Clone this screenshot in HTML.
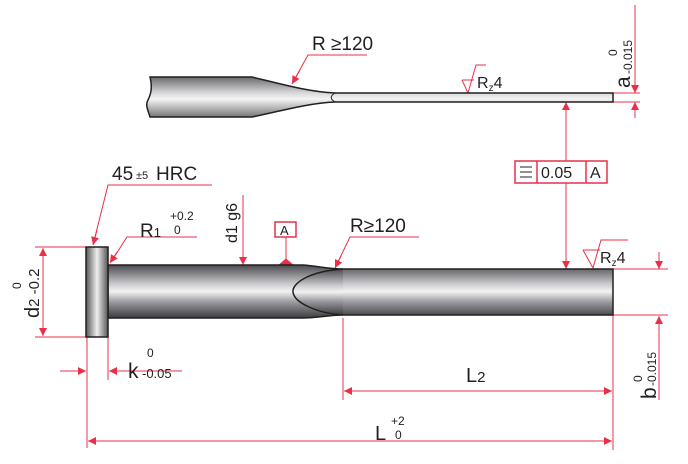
<!DOCTYPE html>
<html><head><meta charset="utf-8"><style>
html,body{margin:0;padding:0;background:#fff;width:688px;height:464px;overflow:hidden}
text{font-family:"Liberation Sans",Arial,sans-serif;fill:#231f20}
</style></head><body>
<svg width="688" height="464" viewBox="0 0 688 464" xmlns="http://www.w3.org/2000/svg">
<defs>
<linearGradient id="g" x1="0" y1="0" x2="0" y2="1">
<stop offset="0" stop-color="#4a4a4f"/><stop offset="0.35" stop-color="#c9c9cc"/><stop offset="0.5" stop-color="#f2f2f2"/><stop offset="0.7" stop-color="#9a9a9e"/><stop offset="1" stop-color="#3c3c40"/></linearGradient>
<linearGradient id="g2" x1="0" y1="0" x2="0" y2="1">
<stop offset="0" stop-color="#6a6a6e"/><stop offset="0.4" stop-color="#d8d8da"/><stop offset="0.55" stop-color="#f4f4f4"/><stop offset="1" stop-color="#77777b"/></linearGradient>
<linearGradient id="gh" x1="0" y1="0" x2="1" y2="0">
<stop offset="0" stop-color="#555"/><stop offset="0.5" stop-color="#eee"/><stop offset="1" stop-color="#555"/></linearGradient>
<marker id="a" viewBox="0 0 10 10" refX="10" refY="5" markerWidth="12" markerHeight="8" markerUnits="userSpaceOnUse" orient="auto-start-reverse"><path d="M0,0L10,5L0,10z" fill="#e8304a"/></marker>
</defs>
<g stroke="#e8304a" stroke-width="1" fill="none">
<line x1="635" y1="5" x2="635" y2="93" marker-end="url(#a)"/>
<line x1="635" y1="118" x2="635" y2="102" marker-end="url(#a)"/>
<line x1="613" y1="93" x2="640" y2="93"/><line x1="613" y1="102" x2="640" y2="102"/>
<line x1="566" y1="161" x2="566" y2="102" marker-end="url(#a)"/>
<line x1="566" y1="183" x2="566" y2="269" marker-end="url(#a)"/>
<rect x="515" y="161" width="92" height="22" stroke-width="1.5"/>
<line x1="537" y1="161" x2="537" y2="183" stroke-width="1.5"/><line x1="586" y1="161" x2="586" y2="183" stroke-width="1.5"/>
<line x1="520" y1="167" x2="532" y2="167" stroke="#231f20"/><line x1="520" y1="172" x2="532" y2="172" stroke="#231f20"/><line x1="520" y1="177" x2="532" y2="177" stroke="#231f20"/>
<polyline points="367,55 308,55 292,84"/><line x1="300" y1="70" x2="292" y2="84" marker-end="url(#a)"/>
<polyline points="462,80 468,93 476,65 486,65"/><line x1="462" y1="80" x2="474" y2="80"/>
<polyline points="212,185 108,185 93,245" /><line x1="97" y1="230" x2="93" y2="245" marker-end="url(#a)"/>
<polyline points="197,237 127,237 111,262"/><line x1="117" y1="252" x2="110" y2="263" marker-end="url(#a)"/>
<line x1="243" y1="195" x2="243" y2="265" marker-end="url(#a)"/>
<rect x="275" y="222" width="21" height="15" stroke-width="1.5"/>
<line x1="286" y1="237" x2="286" y2="260"/><path d="M279,265L286,259L293,265z" fill="#e8304a"/>
<polyline points="419,237 350,237 336,266"/><line x1="341" y1="256" x2="335" y2="268" marker-end="url(#a)"/>
<polyline points="583,250 593,268 601,240 628,240"/><line x1="583" y1="250" x2="600" y2="250"/>
<line x1="35" y1="247" x2="86" y2="247"/><line x1="35" y1="337" x2="86" y2="337"/>
<line x1="43" y1="290" x2="43" y2="248" marker-end="url(#a)"/><line x1="43" y1="290" x2="43" y2="336" marker-end="url(#a)"/>
<line x1="87" y1="337" x2="87" y2="448"/><line x1="108" y1="318" x2="108" y2="380"/>
<line x1="60" y1="371" x2="86" y2="371" marker-end="url(#a)"/><line x1="182" y1="371" x2="109" y2="371" marker-end="url(#a)"/>
<line x1="343" y1="318" x2="343" y2="400"/><line x1="613" y1="315" x2="613" y2="450"/>
<line x1="470" y1="391" x2="344" y2="391" marker-end="url(#a)"/><line x1="470" y1="391" x2="612" y2="391" marker-end="url(#a)"/>
<line x1="350" y1="441" x2="88" y2="441" marker-end="url(#a)"/><line x1="350" y1="441" x2="612" y2="441" marker-end="url(#a)"/>
<line x1="613" y1="269" x2="668" y2="269"/><line x1="613" y1="315" x2="668" y2="315"/>
<line x1="659" y1="252" x2="659" y2="269" marker-end="url(#a)"/><line x1="659" y1="400" x2="659" y2="316" marker-end="url(#a)"/>
</g>
<path d="M150,77 L252,77 C285,85 310,92 335,93 L613,93 L613,102 L335,102 C310,103 285,110 252,117 L150,117 C148,110 145,105 148,100 C152,92 152,85 150,77z" fill="url(#g2)" stroke="#231f20" stroke-width="1.5"/>
<path d="M335,93 C330,96 330,99 335,102" fill="none" stroke="#231f20" stroke-width="1"/>
<path d="M108,265 L303,265 C318,266 328,269 343,269 L613,269 L613,315 L343,315 C328,315 318,318 303,318 L108,318z" fill="url(#g)" stroke="#231f20" stroke-width="1.5"/>
<path d="M343,269 C310,271 292,283 293,292 C294,302 315,313 343,315" fill="url(#g)" stroke="#231f20" stroke-width="1.5"/>
<rect x="86" y="247" width="22" height="90" fill="url(#gh)" stroke="#231f20" stroke-width="1.5"/>
<text x="312" y="50" font-size="19">R ≥120</text>
<text x="477" y="88" font-size="16">R<tspan font-size="10" dy="3">z</tspan><tspan dy="-3">4</tspan></text>
<text transform="translate(630,88) rotate(-90)" font-size="21">a</text>
<text transform="translate(632,74) rotate(-90)" font-size="12">-0.015</text>
<text transform="translate(617,56) rotate(-90)" font-size="12">0</text>
<text x="541" y="178" font-size="16">0.05</text>
<text x="590" y="178" font-size="16">A</text>
<text x="112" y="180" font-size="19">45</text><text x="136" y="179" font-size="11">±5</text><text x="156" y="180" font-size="19">HRC</text>
<text x="140" y="237" font-size="19">R<tspan font-size="13">1</tspan></text>
<text x="170" y="220" font-size="12">+0.2</text><text x="174" y="234" font-size="12">0</text>
<text transform="translate(237,243) rotate(-90)" font-size="16">d1 g6</text>
<text x="280" y="235" font-size="13">A</text>
<text x="350" y="232" font-size="19">R≥120</text>
<text x="600" y="263" font-size="16">R<tspan font-size="10" dy="3">z</tspan><tspan dy="-3">4</tspan></text>
<text transform="translate(39,318) rotate(-90)" font-size="20">d<tspan font-size="15">2</tspan><tspan font-size="15"> -0.2</tspan></text>
<text transform="translate(21,289) rotate(-90)" font-size="12">0</text>
<text x="128" y="378" font-size="21">k</text><text x="147" y="357" font-size="12">0</text><text x="142" y="378" font-size="13">-0.05</text>
<text x="466" y="382" font-size="20">L<tspan font-size="15">2</tspan></text>
<text x="375" y="440" font-size="20">L</text><text x="391" y="425" font-size="12">+2</text><text x="395" y="439" font-size="12">0</text>
<text transform="translate(656,399) rotate(-90)" font-size="21">b</text>
<text transform="translate(656,386) rotate(-90)" font-size="12">-0.015</text>
<text transform="translate(642,382) rotate(-90)" font-size="12">0</text>
</svg>
</body></html>
